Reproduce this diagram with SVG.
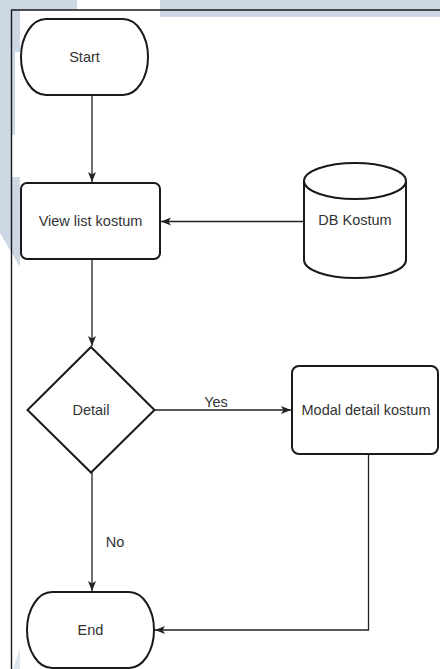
<svg xmlns="http://www.w3.org/2000/svg" width="440" height="669" viewBox="0 0 440 669">
<style>
.bg{fill:#ccd8e4}
.shape{fill:#ffffff;stroke:#1a1a1a;stroke-width:2}
.conn{fill:none;stroke:#222222;stroke-width:1.3}
.lbl{font-family:"Liberation Sans",Arial,sans-serif;font-size:14.5px;fill:#333333;text-anchor:middle;dominant-baseline:central}
.frame{fill:none;stroke:#1a1a1a;stroke-width:1.4}
</style>
<defs>
<marker id="arrow" markerUnits="userSpaceOnUse" markerWidth="11" markerHeight="9" refX="10" refY="4" orient="auto">
<path d="M0,0 L10,4 L0,8 L2.5,4 Z" fill="#222222"/>
</marker>
</defs>
<rect width="440" height="669" fill="#ffffff"/>
<g id="background">
<rect class="bg" x="0" y="0" width="77" height="10"/>
<rect class="bg" x="160" y="0" width="280" height="17"/>
<polygon class="bg" points="0,0 20,0 20,267 0,233"/>
<rect x="15" y="52" width="5" height="83" fill="#ffffff"/>
<rect x="12" y="135" width="8" height="42" fill="#ffffff"/>
<polygon points="13,669 20,648 20,669" fill="#dde6ef"/>
</g>
<g id="frame">
<path class="frame" d="M11.5,669 L11.5,10 L440,10"/>
</g>
<g id="connectors">
<line class="conn" x1="92" y1="96" x2="92" y2="182" marker-end="url(#arrow)"/>
<line class="conn" x1="304" y1="221.5" x2="161" y2="221.5" marker-end="url(#arrow)"/>
<line class="conn" x1="92" y1="259" x2="92" y2="346" marker-end="url(#arrow)"/>
<line class="conn" x1="154" y1="410" x2="291" y2="410" marker-end="url(#arrow)"/>
<line class="conn" x1="92" y1="472" x2="92" y2="591" marker-end="url(#arrow)"/>
<polyline class="conn" points="368.5,454 368.5,630 155,630" marker-end="url(#arrow)"/>
<text class="lbl" x="216" y="402">Yes</text>
<text class="lbl" x="115" y="542">No</text>
</g>
<g id="start">
<rect class="shape" x="21" y="19" width="127" height="76" rx="25" ry="38"/>
<text class="lbl" x="84.5" y="57">Start</text>
</g>
<g id="view-list">
<rect class="shape" x="21" y="183" width="139" height="76" rx="6"/>
<text class="lbl" x="90.5" y="221">View list kostum</text>
</g>
<g id="db-kostum">
<path class="shape" d="M304,181 A51,18 0 0 1 406,181 L406,260 A51,18 0 0 1 304,260 Z"/>
<path class="shape" fill="none" d="M304,181 A51,18 0 0 0 406,181"/>
<text class="lbl" x="355" y="220">DB Kostum</text>
</g>
<g id="detail">
<polygon class="shape" points="91,347 154.5,410 91,472.5 27.5,410"/>
<text class="lbl" x="91" y="410">Detail</text>
</g>
<g id="modal-detail">
<rect class="shape" x="292" y="366" width="146" height="88" rx="7"/>
<text class="lbl" x="366" y="410">Modal detail kostum</text>
</g>
<g id="end">
<rect class="shape" x="27" y="592" width="127" height="76" rx="25" ry="38"/>
<text class="lbl" x="90.5" y="630">End</text>
</g>
</svg>
